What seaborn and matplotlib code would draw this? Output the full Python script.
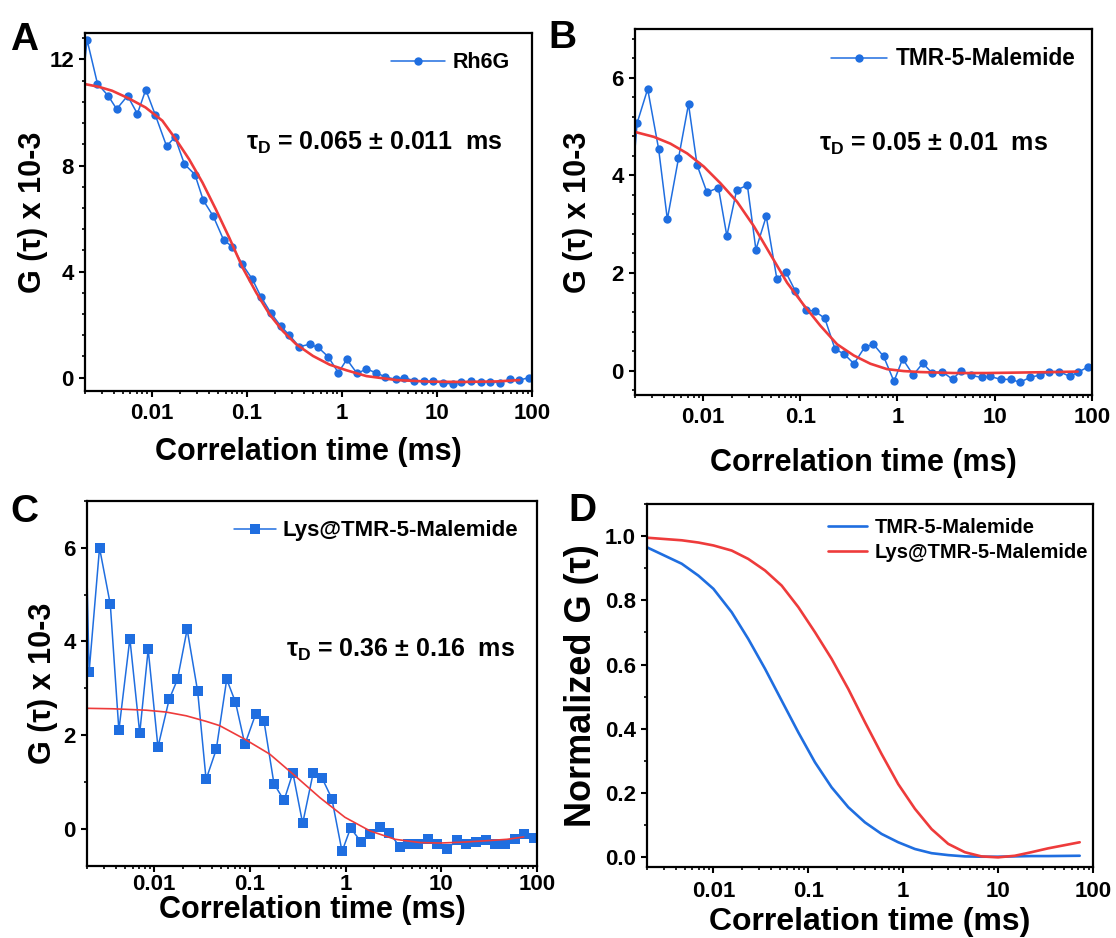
import matplotlib
matplotlib.use("Agg")
import matplotlib.pyplot as plt
import seaborn as sns
from matplotlib.ticker import (AutoMinorLocator, FixedLocator, FuncFormatter,
                               LogLocator, MultipleLocator, NullFormatter)

# ---- data ----
# lag times (ms), shared by the three correlation curves
tau = [0.0017, 0.0021, 0.0027, 0.0035, 0.0043, 0.0056, 0.0071, 0.0087, 0.011, 0.0144,
       0.0176, 0.0222, 0.0286, 0.035, 0.0447, 0.0575, 0.071, 0.089, 0.115, 0.141,
       0.179, 0.228, 0.282, 0.357, 0.46, 0.566, 0.72, 0.92, 1.13, 1.45,
       1.82, 2.27, 2.88, 3.68, 4.51, 5.73, 7.32, 9.0, 11.5, 14.7,
       18.1, 23.0, 29.4, 36.4, 46.2, 59.0, 72.4, 92.0]

g_rh6g = [9.5, 12.74, 11.09, 10.63, 10.13, 10.63, 9.95, 10.86, 9.89, 8.73,
          9.07, 8.05, 7.66, 6.69, 6.08, 5.18, 4.94, 4.30, 3.71, 3.06,
          2.45, 1.95, 1.60, 1.17, 1.26, 1.14, 0.79, 0.19, 0.69, 0.16,
          0.33, 0.19, 0.03, -0.06, 0.0, -0.11, -0.14, -0.11, -0.21, -0.23,
          -0.16, -0.14, -0.16, -0.16, -0.19, -0.06, -0.10, 0.0]

g_tmr = [2.8, 5.07, 5.77, 4.54, 3.10, 4.35, 5.46, 4.21, 3.65, 3.75,
         2.76, 3.70, 3.80, 2.48, 3.16, 1.88, 2.02, 1.63, 1.24, 1.22,
         1.07, 0.44, 0.34, 0.14, 0.48, 0.54, 0.29, -0.22, 0.24, -0.09,
         0.15, -0.05, -0.02, -0.18, 0.0, -0.10, -0.14, -0.12, -0.18, -0.18,
         -0.24, -0.14, -0.09, -0.02, -0.02, -0.12, -0.03, 0.08]

g_lys = [12.0, 3.34, 6.0, 4.79, 2.10, 4.06, 2.04, 3.83, 1.74, 2.76,
         3.19, 4.26, 2.93, 1.05, 1.69, 3.19, 2.70, 1.80, 2.44, 2.29,
         0.96, 0.60, 1.19, 0.11, 1.19, 1.09, 0.64, -0.49, 0.01, -0.28,
         -0.12, 0.04, -0.09, -0.39, -0.34, -0.34, -0.23, -0.34, -0.43, -0.25,
         -0.34, -0.28, -0.25, -0.32, -0.34, -0.23, -0.12, -0.21]

# fitted curves
fit_rh6g_t = [0.002, 0.00278, 0.00385, 0.00577, 0.00865, 0.013, 0.018, 0.0248, 0.0343,
              0.0474, 0.0656, 0.0907, 0.126, 0.174, 0.24, 0.332, 0.498, 0.747, 1.12,
              1.82, 3.78, 8.51, 19.1, 43.1, 73.5]
fit_rh6g_g = [11.07, 10.97, 10.82, 10.53, 10.19, 9.69, 8.99, 8.24, 7.36,
              6.35, 5.28, 4.15, 3.21, 2.39, 1.76, 1.26, 0.82, 0.49, 0.28,
              0.06, -0.09, -0.15, -0.16, -0.14, -0.09]

fit_tmr_t = [0.002, 0.00312, 0.00463, 0.00688, 0.0102, 0.0151, 0.0224, 0.0333, 0.0494,
             0.0733, 0.109, 0.161, 0.239, 0.355, 0.527, 0.781, 1.16, 1.72, 3.79,
             8.34, 18.4, 40.4, 71.3]
fit_tmr_g = [4.89, 4.79, 4.65, 4.45, 4.18, 3.84, 3.46, 2.96, 2.38,
             1.80, 1.34, 0.92, 0.54, 0.31, 0.14, 0.03, -0.01, -0.03, -0.05,
             -0.05, -0.04, -0.03, -0.02]

fit_lys_t = [0.002, 0.00371, 0.00828, 0.0134, 0.0217, 0.0352, 0.0485, 0.0887, 0.162,
             0.296, 0.541, 0.987, 1.80, 3.29, 6.01, 9.75, 17.1, 30.0, 48.6, 72.6]
fit_lys_g = [2.57, 2.56, 2.53, 2.49, 2.41, 2.29, 2.20, 1.91, 1.59,
             1.13, 0.66, 0.24, -0.05, -0.23, -0.30, -0.31, -0.29, -0.26, -0.23, -0.18]

# normalised fits (panel D)
norm_t = [0.002, 0.00464, 0.00695, 0.01, 0.0156, 0.0233, 0.035, 0.0524, 0.0785, 0.1175,
          0.176, 0.264, 0.395, 0.591, 0.886, 1.33, 1.99, 2.98, 4.46, 6.67,
          10.0, 15.0, 22.4, 33.6, 72.4]
norm_tmr = [0.965, 0.914, 0.877, 0.836, 0.763, 0.680, 0.587, 0.488, 0.389, 0.296,
            0.218, 0.156, 0.109, 0.073, 0.047, 0.026, 0.013, 0.007, 0.003, 0.002,
            0.002, 0.003, 0.004, 0.004, 0.005]
norm_lys = [0.995, 0.987, 0.980, 0.971, 0.955, 0.929, 0.893, 0.846, 0.779, 0.701,
            0.618, 0.524, 0.421, 0.322, 0.228, 0.151, 0.088, 0.042, 0.016, 0.003,
            0.0, 0.005, 0.016, 0.028, 0.047]

tau_labels = ["0.05 \u00b1 0.01", "0.065 \u00b1 0.011", "0.36 \u00b1 0.16"]

BLUE = "#1f6ee0"
RED = "#ee3b3b"

sns.set_theme(style="ticks")
plt.rcParams["font.family"] = ["Liberation Sans", "DejaVu Sans"]
plt.rcParams.update({
    "font.weight": "bold",
    "axes.labelweight": "bold",
    "text.color": "black",
    "axes.labelcolor": "black",
    "mathtext.fontset": "custom",
    "mathtext.rm": "Liberation Sans:bold",
    "mathtext.it": "Liberation Sans:bold",
    "mathtext.bf": "Liberation Sans:bold",
    "axes.linewidth": 1.6,
    "axes.edgecolor": "black",
    "xtick.color": "black",
    "ytick.color": "black",
    "xtick.major.size": 4.5,
    "ytick.major.size": 4.5,
    "xtick.minor.size": 2.5,
    "ytick.minor.size": 2.5,
    "xtick.major.width": 1.5,
    "ytick.major.width": 1.5,
    "xtick.minor.width": 1.2,
    "ytick.minor.width": 1.2,
    "xtick.labelsize": 16,
    "ytick.labelsize": 16,
    "axes.labelsize": 22,
})


def style_axes(ax, ylim, ymajor, nminor, ylabel, yfmt="{:g}", xpad=4.5, xlpad=5, ylpad=4, lsize=22):
    ax.set_xscale("log")
    ax.set_xlim(0.002, 100)
    ax.set_ylim(*ylim)
    ax.xaxis.set_major_locator(FixedLocator([0.01, 0.1, 1, 10, 100]))
    ax.xaxis.set_major_formatter(FuncFormatter(lambda v, _: f"{v:g}"))
    ax.xaxis.set_minor_locator(LogLocator(base=10, subs=range(2, 10), numticks=20))
    ax.xaxis.set_minor_formatter(NullFormatter())
    ax.yaxis.set_major_locator(MultipleLocator(ymajor))
    ax.yaxis.set_minor_locator(AutoMinorLocator(nminor))
    ax.yaxis.set_major_formatter(FuncFormatter(lambda v, _: yfmt.format(v)))
    ax.tick_params(axis="x", which="major", pad=xpad)
    ax.set_xlabel("Correlation time (ms)", labelpad=xlpad, fontsize=lsize)
    ax.set_ylabel(ylabel, labelpad=ylpad, fontsize=lsize)
    for sp in ax.spines.values():
        sp.set_visible(True)
        sp.set_linewidth(1.6)


fig = plt.figure(figsize=(11.16, 9.38), dpi=100)
ax_a = fig.add_axes([0.0762, 0.5832, 0.4005, 0.3817])
ax_b = fig.add_axes([0.5690, 0.5789, 0.4095, 0.3902])
ax_c = fig.add_axes([0.0780, 0.0768, 0.4032, 0.3890])
ax_d = fig.add_axes([0.5798, 0.0757, 0.3996, 0.3870])

gl = "G (\u03c4) x 10-3"

# --- A: Rh6G ---
sns.lineplot(x=tau, y=g_rh6g, ax=ax_a, color=BLUE, marker="o", markersize=6,
             markeredgewidth=0, linewidth=1.1, label="Rh6G", estimator=None, sort=False)
sns.lineplot(x=fit_rh6g_t, y=fit_rh6g_g, ax=ax_a, color=RED, linewidth=1.9,
             estimator=None, sort=False)
style_axes(ax_a, (-0.5, 13), 4, 5, gl, xlpad=9, ylpad=0.5)
ax_a.legend(loc="center right", bbox_to_anchor=(0.951, 0.916), frameon=False, fontsize=15.5,
            handlelength=2.5, handletextpad=0.35, borderpad=0, borderaxespad=0)
ax_a.text(0.36, 0.673, r"$\tau_D$ = " + tau_labels[1] + "  ms", transform=ax_a.transAxes,
          ha="left", va="baseline", fontsize=18, fontweight="bold")

# --- B: TMR-5-Malemide ---
sns.lineplot(x=tau, y=g_tmr, ax=ax_b, color=BLUE, marker="o", markersize=6,
             markeredgewidth=0, linewidth=1.1, label="TMR-5-Malemide", estimator=None, sort=False)
sns.lineplot(x=fit_tmr_t, y=fit_tmr_g, ax=ax_b, color=RED, linewidth=1.9,
             estimator=None, sort=False)
style_axes(ax_b, (-0.5, 7), 2, 5, gl, xlpad=14, ylpad=13)
ax_b.legend(loc="center right", bbox_to_anchor=(0.963, 0.918), frameon=False, fontsize=16.3,
            handlelength=2.5, handletextpad=0.35, borderpad=0, borderaxespad=0)
ax_b.text(0.403, 0.667, r"$\tau_D$ = " + tau_labels[0] + "  ms", transform=ax_b.transAxes,
          ha="left", va="baseline", fontsize=18, fontweight="bold")

# --- C: Lys@TMR-5-Malemide ---
sns.lineplot(x=tau, y=g_lys, ax=ax_c, color=BLUE, marker="s", markersize=6.5,
             markeredgewidth=0, linewidth=1.1, label="Lys@TMR-5-Malemide", estimator=None, sort=False)
sns.lineplot(x=fit_lys_t, y=fit_lys_g, ax=ax_c, color=RED, linewidth=1.2,
             estimator=None, sort=False)
style_axes(ax_c, (-0.8, 7), 2, 2, gl, xpad=1, xlpad=0, ylpad=4)
ax_c.legend(loc="center right", bbox_to_anchor=(0.958, 0.918), frameon=False, fontsize=16,
            handlelength=1.9, handletextpad=0.3, borderpad=0, borderaxespad=0)
ax_c.text(0.442, 0.573, r"$\tau_D$ = " + tau_labels[2] + "  ms", transform=ax_c.transAxes,
          ha="left", va="baseline", fontsize=18, fontweight="bold")

# --- D: normalised ---
sns.lineplot(x=norm_t, y=norm_tmr, ax=ax_d, color=BLUE, linewidth=1.9,
             label="TMR-5-Malemide", estimator=None, sort=False)
sns.lineplot(x=norm_t, y=norm_lys, ax=ax_d, color=RED, linewidth=1.9,
             label="Lys@TMR-5-Malemide", estimator=None, sort=False)
style_axes(ax_d, (-0.03, 1.1), 0.2, 2, "Normalized G (\u03c4)", yfmt="{:.1f}",
           xpad=5.5, xlpad=4, ylpad=4, lsize=23)
ax_d.yaxis.label.set_fontsize(26)
ax_d.legend(loc="center right", bbox_to_anchor=(0.989, 0.90), frameon=False, fontsize=14.5,
            handlelength=1.9, handletextpad=0.4, labelspacing=0.3, borderpad=0, borderaxespad=0)

# panel letters
for letter, x, y in [("A", 0.009, 0.947), ("B", 0.491, 0.949), ("C", 0.009, 0.4435), ("D", 0.509, 0.4445)]:
    fig.text(x, y, letter, fontsize=28, fontweight="bold", ha="left", va="baseline")

fig.savefig("out.png", dpi=100)
